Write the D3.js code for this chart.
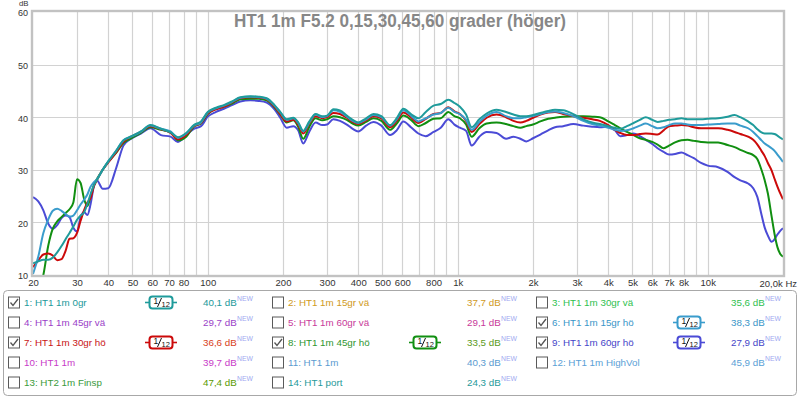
<!DOCTYPE html>
<html><head><meta charset="utf-8">
<script src="https://cdn.jsdelivr.net/npm/d3@7"></script>
<style>
html,body{margin:0;padding:0;background:#fff;}
svg{display:block;font-family:"Liberation Sans",Arial,sans-serif;}
</style></head>
<body><svg id="c" width="800" height="398"></svg>
<script>
const titleText = "HT1 1m F5.2 0,15,30,45,60 grader (höger)";
const freqs = [20,21,22,23,24,25,26,27,28,29,30,31,32,33,34,35,36,
 38,40,43,46,49,54,59,65,71,76,82,88,94,
 100,108,116,125,135,148,160,172,185,195,
 207,220,230,241,255,270,287,300,318,338,
 360,380,400,430,460,495,536,570,606,650,
 696,745,800,855,917,970,1020,1080,1137,1220,
 1305,1430,1560,1670,1780,1880,2000,2140,2300,2450,
 2640,2900,3180,3450,3700,4000,4250,4470,4750,5050,
 5350,5650,6000,6300,6660,7000,7400,7850,8300,8800,
 9400,10000,11000,12000,12800,13500,14500,15200,15800,16400,
 16900,17400,18000,18500,19000,19500,20000];

const ht1_0gr = [12.2,12.6,12.9,12.9,13.3,14.3,15.5,16.8,18.0,19.2,20.5,21.3,21.9,23.5,25.4,27.0,28.0,
 30.0,31.6,33.6,35.6,36.3,37.3,38.5,37.8,37.1,36.2,37.0,38.5,39.2,
 41.0,41.8,42.3,43.0,43.8,44.0,43.9,43.6,42.3,41.0,
 39.6,39.9,39.0,37.4,39.2,40.6,40.2,40.3,41.5,41.3,
 40.3,39.5,39.0,39.8,40.6,40.2,38.5,39.8,41.6,40.6,
 39.8,41.0,42.2,42.5,43.3,42.7,42.0,40.5,38.1,39.6,
 40.7,41.4,41.0,40.5,40.2,40.2,40.4,40.8,41.2,41.4,
 41.3,40.6,39.6,39.0,38.7,38.3,38.0,37.8,38.3,38.9,
 39.5,40.0,39.5,39.1,39.3,39.5,39.6,39.8,39.6,39.6,
 39.6,39.7,39.8,40.1,40.4,40.0,39.2,38.5,37.7,37.1,
 36.9,36.9,36.9,36.8,36.5,36.1,35.8];

const ht1_15gr_ho = [10.2,13.5,18.0,20.5,22.2,22.6,22.2,21.6,21.1,21.3,22.3,23.4,24.3,25.3,26.8,27.6,28.2,
 30.0,31.6,33.6,35.6,36.2,37.2,38.4,37.8,37.3,36.1,36.9,38.4,39.0,
 40.9,41.7,42.2,42.9,43.7,43.9,43.8,43.5,42.2,40.9,
 39.5,39.8,38.9,37.3,39.0,40.5,40.0,40.2,41.3,41.0,
 40.1,39.3,38.9,39.6,40.4,40.0,38.4,39.6,41.3,40.3,
 39.2,39.8,40.5,40.8,41.8,41.0,40.6,39.5,37.6,39.1,
 40.3,41.0,40.2,39.8,39.8,40.0,40.2,40.6,41.0,41.1,
 40.8,40.2,39.3,38.7,38.4,38.0,37.6,37.4,37.5,37.9,
 38.4,38.8,38.3,37.9,38.1,38.5,38.8,38.8,38.6,38.5,
 38.5,38.6,38.7,38.8,38.8,38.4,37.9,37.2,36.4,35.6,
 35.0,34.6,34.1,33.6,32.9,32.2,31.5];

const ht1_30gr_ho = [11.5,12.8,13.9,14.1,13.7,12.8,13.0,14.6,16.9,17.0,18.0,20.3,22.3,23.8,24.6,26.8,28.0,
 30.0,31.4,33.3,35.3,36.2,37.2,38.3,37.7,37.0,35.8,36.6,38.3,38.9,
 40.7,41.5,42.0,42.8,43.6,43.8,43.7,43.4,42.0,40.6,
 39.2,39.5,38.6,36.9,38.8,40.2,39.8,40.0,40.8,40.6,
 39.9,39.1,38.7,39.4,40.2,39.8,38.1,39.3,40.9,40.0,
 38.9,39.7,40.6,40.8,41.9,41.1,40.6,39.3,37.2,38.7,
 39.9,40.5,40.0,39.3,39.0,39.3,39.9,40.5,40.9,41.0,
 40.6,40.2,39.9,39.6,39.3,38.5,37.6,37.0,36.6,36.6,
 36.8,36.9,36.8,36.7,37.5,38.3,38.4,38.5,38.4,38.1,
 37.9,37.9,37.9,37.6,37.2,36.8,36.3,35.7,34.8,33.6,
 32.6,31.3,29.9,28.3,26.8,25.5,24.4];

const ht1_45gr_ho = [4.0,7.0,10.0,15.5,18.8,20.2,21.0,21.8,22.5,23.8,28.2,27.5,24.5,23.1,25.0,27.0,28.2,
 30.0,31.5,33.2,35.1,35.9,37.0,38.1,37.6,37.2,35.6,36.3,38.2,38.8,
 40.6,41.6,42.0,42.6,43.4,43.5,43.5,43.2,41.9,40.5,
 39.0,39.4,38.2,35.9,38.2,39.8,39.4,39.6,40.2,40.0,
 39.5,38.8,38.4,39.1,39.8,39.3,37.6,38.8,40.3,39.5,
 38.3,38.9,39.7,39.8,41.0,40.2,39.8,38.6,36.3,37.9,
 38.8,39.0,38.7,38.3,38.0,38.3,38.6,39.2,39.7,39.9,
 40.1,40.2,40.2,40.1,40.0,39.2,38.5,37.9,37.2,36.6,
 36.0,35.7,35.3,34.8,34.1,34.6,35.2,35.6,35.7,35.5,
 35.3,35.2,35.2,34.7,34.3,33.8,33.2,32.8,32.0,30.0,
 28.0,25.5,21.2,17.8,15.3,14.0,13.5];

const ht1_60gr_ho = [24.8,24.0,22.3,19.8,18.8,19.5,20.8,21.3,21.0,19.0,18.3,21.0,22.0,21.4,23.5,26.8,28.0,
 26.4,26.5,30.3,34.6,35.8,36.9,37.9,36.6,36.3,35.3,36.6,37.8,38.3,
 40.1,41.0,41.6,42.3,43.0,43.2,43.1,42.8,41.5,39.9,
 38.0,38.3,37.5,35.0,37.3,39.0,38.5,38.6,39.6,39.3,
 38.6,37.8,37.3,38.4,39.1,38.4,36.6,37.5,39.2,38.1,
 36.9,36.4,37.2,38.0,39.6,38.6,38.0,37.4,34.6,36.3,
 37.2,37.0,35.9,36.3,35.9,35.4,36.0,36.7,37.5,38.1,
 38.3,38.7,38.4,38.2,38.1,38.2,37.5,36.4,36.6,36.9,
 36.4,35.7,34.9,34.1,33.4,32.9,33.0,33.3,32.8,32.2,
 31.3,30.8,30.5,29.6,28.6,28.0,27.4,26.5,24.8,21.5,
 19.0,17.5,16.3,16.8,17.7,18.4,18.9];

const seriesData = [ht1_60gr_ho, ht1_45gr_ho, ht1_30gr_ho, ht1_15gr_ho, ht1_0gr];
const seriesColors = ["#4b4bd6", "#118f11", "#cc0a0a", "#3a9ccc", "#1f9b9b"];

const yTicks = [10,20,30,40,50,60];
const xGrid = [20,30,40,50,60,70,80,90,100,200,300,400,500,600,700,800,900,1000,
 2000,3000,4000,5000,6000,7000,8000,9000,10000,20000];
const xTickValues = [20,30,40,50,60,70,80,100,200,300,400,500,600,800,1000,
 2000,3000,4000,5000,6000,7000,8000,10000];
const xTickLabels = ["20","30","40","50","60","70","80","100","200","300","400","500","600","800","1k",
 "2k","3k","4k","5k","6k","7k","8k","10k"];
const xLastLabel = "20,0k Hz";

const legendLabels = ["1: HT1 1m 0gr","2: HT1 1m 15gr vä","3: HT1 1m 30gr vä",
 "4: HT1 1m 45gr vä","5: HT1 1m 60gr vä","6: HT1 1m 15gr hö",
 "7: HT1 1m 30gr hö","8: HT1 1m 45gr hö","9: HT1 1m 60gr hö",
 "10: HT1 1m","11: HT1 1m","12: HT1 1m HighVol",
 "13: HT2 1m Finsp","14: HT1 port"];
const legendValues = ["40,1 dB","37,7 dB","35,6 dB","29,7 dB","29,1 dB","38,3 dB",
 "36,6 dB","33,5 dB","27,9 dB","39,7 dB","40,3 dB","45,9 dB","47,4 dB","24,3 dB"];
const legendColors = ["#22999a","#d09a22","#2fbf4f","#9a3ec8","#c8399a","#3a96c8",
 "#c81414","#2f962f","#4545c8","#c83ac8","#5b9bd0","#5aa0d6","#3b9b3b","#1f9a9a"];
const legendValueColors = ["#22999a","#d09a22","#2fbf4f","#9a3ec8","#c8399a","#3a96c8",
 "#d8401a","#5a9a1a","#4545c8","#c83ac8","#5b9bd0","#5aa0d6","#5a9a00","#1f9a9a"];
const legendChecked = [true,false,false,false,false,true,true,true,true,false,false,false,false,false];
const legendFilter = [true,false,false,false,false,true,true,true,true,false,false,false,false,false];

const svg = d3.select("#c");
const x = d3.scaleLog().domain([20,20000]).range([33,783]);
const y = d3.scaleLinear().domain([10,60]).range([275,12]);

// grid
const grid = svg.append("g");
grid.selectAll("line.v").data(xGrid.filter(d=>d>20 && d<20000)).enter().append("line")
 .attr("x1",d=>Math.round(x(d))+0.5).attr("x2",d=>Math.round(x(d))+0.5)
 .attr("y1",y(60)).attr("y2",y(10)).attr("stroke","#d2d2d2").attr("stroke-width",1.2);
grid.selectAll("line.h").data(yTicks.filter(d=>d>10 && d<60)).enter().append("line")
 .attr("x1",x(20)).attr("x2",x(20000))
 .attr("y1",d=>Math.round(y(d))+0.5).attr("y2",d=>Math.round(y(d))+0.5)
 .attr("stroke","#d2d2d2").attr("stroke-width",1.2);

// title
svg.append("text").attr("x",400).attr("y",27).attr("text-anchor","middle")
 .attr("font-size",17.5).attr("font-weight","bold").attr("fill","#878787")
 .attr("textLength",332).attr("lengthAdjust","spacingAndGlyphs")
 .text(titleText);

// curves
svg.append("clipPath").attr("id","clip").append("rect")
 .attr("x",x(20)).attr("y",y(60)).attr("width",x(20000)-x(20)).attr("height",y(10)-y(60));
const line = d3.line().x((d,i)=>x(freqs[i])).y(d=>y(d)).curve(d3.curveMonotoneX);
const cg = svg.append("g").attr("clip-path","url(#clip)");
seriesData.forEach((s,k)=>{
  cg.append("path").attr("d",line(s)).attr("fill","none")
   .attr("stroke",seriesColors[k]).attr("stroke-width",2).attr("stroke-linejoin","round");
});

// frame
svg.append("rect").attr("x",x(20)-1).attr("y",y(60)-1).attr("width",x(20000)-x(20)+2).attr("height",y(10)-y(60)+2)
 .attr("fill","none").attr("stroke","#c2c2c2").attr("stroke-width",2.4);

// y axis labels
const yAxis = d3.axisLeft(y).tickValues(yTicks).tickSize(0).tickPadding(0).tickFormat(d3.format("d"));
const ya = svg.append("g").attr("transform","translate(28,1)").call(yAxis);
ya.select(".domain").remove();
ya.selectAll("text").attr("font-size",9).attr("fill","#333").attr("font-family","Liberation Sans, Arial, sans-serif");
svg.append("text").attr("x",28.5).attr("y",6).attr("text-anchor","end").attr("font-size",7.8)
 .attr("fill","#333").text("dB");

// x axis labels
const xAxis = d3.axisBottom(x).tickValues(xTickValues).tickSize(0).tickPadding(0)
 .tickFormat((d,i)=>xTickLabels[i]);
const xa = svg.append("g").attr("transform","translate(0,279)").call(xAxis);
xa.select(".domain").remove();
xa.selectAll("text").attr("font-size",9.5).attr("fill","#333").attr("font-family","Liberation Sans, Arial, sans-serif");
svg.append("text").attr("x",797).attr("y",287).attr("text-anchor","end").attr("font-size",9.5)
 .attr("fill","#333").text(xLastLabel);

// legend
svg.append("rect").attr("x",3.5).attr("y",290.5).attr("width",793).attr("height",105).attr("rx",4)
 .attr("fill","#fff").attr("stroke","#a8a8a8").attr("stroke-width",1);
const colX = [8, 272, 536];
legendLabels.forEach((lab,i)=>{
  const c = i%3, r = Math.floor(i/3);
  const bx = colX[c], cy = 302.5 + r*20;
  const g = svg.append("g");
  g.append("rect").attr("x",bx+0.5).attr("y",cy-5.5).attr("width",11).attr("height",11)
   .attr("fill","#fff").attr("stroke","#5a5a5a").attr("stroke-width",1);
  if (legendChecked[i]) {
    g.append("path").attr("d",`M${bx+2.5},${cy} L${bx+5},${cy+3} L${bx+10},${cy-3.5}`)
     .attr("fill","none").attr("stroke","#555").attr("stroke-width",1.3);
  }
  g.append("text").attr("x",bx+16).attr("y",cy+3.5).attr("font-size",9.8)
   .attr("fill",legendColors[i]).text(lab);
  const vx = bx + 195;
  g.append("text").attr("x",vx).attr("y",cy+3.5).attr("font-size",9.8)
   .attr("fill",legendValueColors[i]).text(legendValues[i]);
  g.append("text").attr("x",vx+34).attr("y",cy-1.5).attr("font-size",6.8)
   .attr("fill","#a0a8f0").text("NEW");
  if (legendFilter[i]) {
    const fx = bx + 153, col = seriesColors[[4,-1,-1,-1,-1,3,2,1,0][i]];
    const fg = g.append("g").attr("transform",`translate(${fx},${cy})`);
    fg.append("line").attr("x1",-16).attr("x2",16).attr("y1",0).attr("y2",0)
     .attr("stroke",col).attr("stroke-width",1.6);
    fg.append("rect").attr("x",-11.5).attr("y",-6).attr("width",23).attr("height",12).attr("rx",3)
     .attr("fill","#fff").attr("stroke",col).attr("stroke-width",2);
    fg.append("text").attr("x",-7.5).attr("y",1).attr("font-size",8.5).attr("fill","#111").text("1");
    fg.append("line").attr("x1",-3.5).attr("y1",4.5).attr("x2",0.5).attr("y2",-4.5)
     .attr("stroke","#111").attr("stroke-width",1);
    fg.append("text").attr("x",0.5).attr("y",4.8).attr("font-size",7.5).attr("fill","#111").text("12");
  }
});
</script>
</body></html>
